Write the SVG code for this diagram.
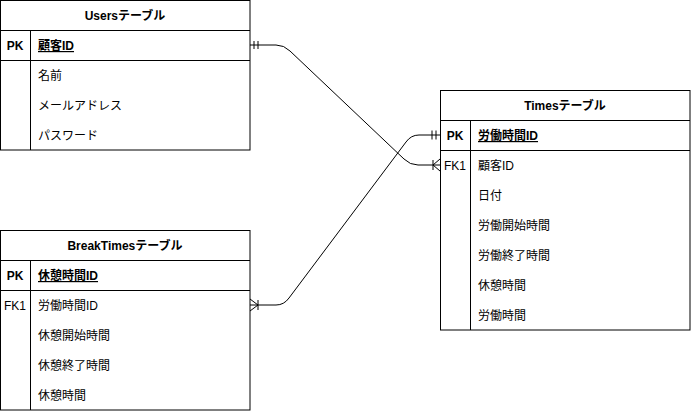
<svg xmlns="http://www.w3.org/2000/svg" width="691" height="412" viewBox="0 0 691 412">
<style>
.box{fill:#fff;stroke:#000;stroke-width:1}
.ln{fill:none;stroke:#000;stroke-width:1}
text{font-family:"Liberation Sans","Noto Sans CJK JP",sans-serif;font-size:12px;fill:#000}
.h{font-weight:bold;text-anchor:middle}
.k{font-weight:bold;text-anchor:middle}
.pk{font-weight:bold;text-decoration:underline}
.fk{text-anchor:middle}
</style>
<rect width="691" height="412" fill="#fff"/>
<g id="connectors" class="ln">
<path d="M250,45 L276,45 Q284,45 290,51 L404,159 Q410,165 418,165 L440,165"/>
<path d="M254,41 V49 M258,41 V49"/>
<path d="M433,160 V170 M433,165 L440,159 M433,165 L440,171"/>
<path d="M250,305 L276,305 Q284,305 289,298 L406,142 Q411,135 419,135 L440,135"/>
<path d="M432,130.5 V139.5 M436,130.5 V139.5"/>
<path d="M258,300 V310 M258,305 L250,299 M258,305 L250,311"/>
</g>
<g id="users">
<rect class="box" x="0.5" y="0.5" width="249.5" height="149.5"/>
<path class="ln" d="M0.5,30.5 H250 M0.5,60.5 H250 M30.5,30.5 V150"/>
<text class="h" x="125" y="20">Usersテーブル</text>
<text class="k" x="15" y="50">PK</text>
<text class="pk" x="38" y="50">顧客ID</text>
<text x="38" y="80">名前</text>
<text x="38" y="110">メールアドレス</text>
<text x="38" y="140">パスワード</text>
</g>
<g id="times">
<rect class="box" x="440.5" y="90.5" width="249.5" height="239.5"/>
<path class="ln" d="M440.5,120.5 H690 M440.5,150.5 H690 M470.5,120.5 V330"/>
<text class="h" x="565" y="110">Timesテーブル</text>
<text class="k" x="455" y="140">PK</text>
<text class="pk" x="478" y="140">労働時間ID</text>
<text class="fk" x="455" y="170">FK1</text>
<text x="478" y="170">顧客ID</text>
<text x="478" y="200">日付</text>
<text x="478" y="230">労働開始時間</text>
<text x="478" y="260">労働終了時間</text>
<text x="478" y="290">休憩時間</text>
<text x="478" y="320">労働時間</text>
</g>
<g id="breaktimes">
<rect class="box" x="0.5" y="230.5" width="249.5" height="179.5"/>
<path class="ln" d="M0.5,260.5 H250 M0.5,290.5 H250 M30.5,260.5 V410"/>
<text class="h" x="125" y="250">BreakTimesテーブル</text>
<text class="k" x="15" y="280">PK</text>
<text class="pk" x="38" y="280">休憩時間ID</text>
<text class="fk" x="15" y="310">FK1</text>
<text x="38" y="310">労働時間ID</text>
<text x="38" y="340">休憩開始時間</text>
<text x="38" y="370">休憩終了時間</text>
<text x="38" y="400">休憩時間</text>
</g>
</svg>
